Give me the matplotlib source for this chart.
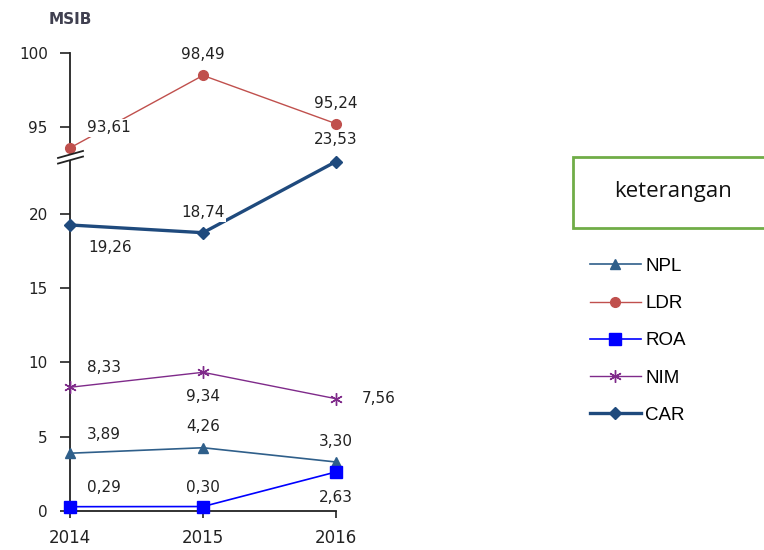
import numpy as np
import matplotlib
matplotlib.use("Agg")
from matplotlib import pyplot as plt
from matplotlib.patches import Rectangle

years = [2014, 2015, 2016]
npl = [3.89, 4.26, 3.30]
ldr = [93.61, 98.49, 95.24]
roa = [0.29, 0.30, 2.63]
nim = [8.33, 9.34, 7.56]
car = [19.26, 18.74, 23.53]
y_ticks = [0, 5, 10, 15, 20, 95, 100]

# broken y axis: everything above BREAK_HI is pulled down next to BREAK_LO
BREAK_LO = 23.97
BREAK_HI = 93.13
GAP = BREAK_HI - BREAK_LO


def fwd(y):
    y = np.asarray(y, dtype=float)
    return np.where(y > BREAK_LO, y - GAP, y)


def inv(t):
    t = np.asarray(t, dtype=float)
    return np.where(t > BREAK_LO, t + GAP, t)


def fmt(v):
    return f"{v:.2f}".replace(".", ",")


W, H = 764, 550
fig = plt.figure(figsize=(W / 100, H / 100), dpi=100)
ax = fig.add_axes([70 / W, 1 - 511 / H, 266 / W, 458 / H])
ax.set_yscale("function", functions=(fwd, inv))
ax.set_ylim(0, 100)
ax.set_xlim(2014, 2016)

c_npl = "#2f5f8a"
c_ldr = "#c0504d"
c_roa = "#0000ff"
c_nim = "#7f2a8a"
c_car = "#1f4a7d"

l_npl, = ax.plot(years, npl, color=c_npl, lw=1.2, marker="^", ms=7, clip_on=False, zorder=3)
l_ldr, = ax.plot(years, ldr, color=c_ldr, lw=1.0, marker="o", ms=7, clip_on=False, zorder=3)
l_roa, = ax.plot(years, roa, color=c_roa, lw=1.2, marker="s", ms=8, clip_on=False, zorder=3)
l_nim, = ax.plot(years, nim, color=c_nim, lw=1.0, marker=(6, 2, 0), ms=9, mew=1.0,
                 clip_on=False, zorder=3)
l_car, = ax.plot(years, car, color=c_car, lw=2.4, marker="D", ms=6, clip_on=False, zorder=3)

# value labels, offsets in pixels from each point
offsets = {
    "npl": [(34, 19), (0, 21), (0, 20)],
    "ldr": [(39, 20), (0, 21), (0, 20)],
    "roa": [(34, 19), (0, 19), (0, -26)],
    "nim": [(34, 20), (0, -24), (43, 0)],
    "car": [(40, -23), (0, 20), (0, 22)],
}
series = {"npl": npl, "ldr": ldr, "roa": roa, "nim": nim, "car": car}
for key, vals in series.items():
    for x, v, off in zip(years, vals, offsets[key]):
        ax.annotate(fmt(v), (x, v), xytext=off, textcoords="offset pixels",
                    ha="center", va="center", fontsize=11, color="#222222",
                    bbox=dict(fc="white", ec="none", pad=1.0), zorder=4,
                    annotation_clip=False)

ax.set_yticks(y_ticks)
ax.set_yticklabels([str(t) for t in y_ticks])
ax.set_xticks(years)
ax.set_xticklabels([str(y) for y in years])
ax.tick_params(axis="y", direction="out", length=7, width=1.2, labelsize=11,
               colors="#222222", pad=9)
ax.tick_params(axis="x", direction="out", length=5, width=1.2, labelsize=12,
               colors="#222222", pad=8)
ax.yaxis.set_minor_locator(plt.NullLocator())
for side in ["top", "right"]:
    ax.spines[side].set_visible(False)
for side in ["left", "bottom"]:
    ax.spines[side].set_linewidth(1.3)
    ax.spines[side].set_color("#222222")

# break mark on the y axis
fig.canvas.draw()
xb, yb = ax.transData.transform((2014, BREAK_HI - 0.15))
fig.add_artist(Rectangle(((xb - 2) / W, (yb - 2.5) / H), 4 / W, 5 / H,
                         fc="white", ec="none", zorder=5))
for dy in (-2.8, 2.8):
    xs = [xb - 12, xb + 13]
    ys = [yb + dy - 3.5, yb + dy + 3.5]
    fig.add_artist(plt.Line2D([x / W for x in xs], [y / H for y in ys],
                              color="#222222", lw=1.3, zorder=6))

fig.text(70 / W, 1 - 20 / H, "MSIB", ha="center", va="center",
         fontsize=11, fontweight="bold", color="#404050")

# legend title box
fig.add_artist(Rectangle((573 / W, 1 - 228 / H), 200 / W, 71 / H,
                         fc="white", ec="#70ad47", lw=2.0))
fig.text(673 / W, 1 - 192 / H, "keterangan", ha="center", va="center",
         fontsize=16, family="Open Sans", color="#111111")

fig.legend([l_npl, l_ldr, l_roa, l_nim, l_car], ["NPL", "LDR", "ROA", "NIM", "CAR"],
           loc="upper left", bbox_to_anchor=(573 / W, 1 - 241 / H),
           frameon=False, handlelength=2.7, handletextpad=0.25, labelspacing=1.07,
           prop={"family": "Liberation Sans", "size": 13.5})

fig.savefig("out.png", dpi=100)
